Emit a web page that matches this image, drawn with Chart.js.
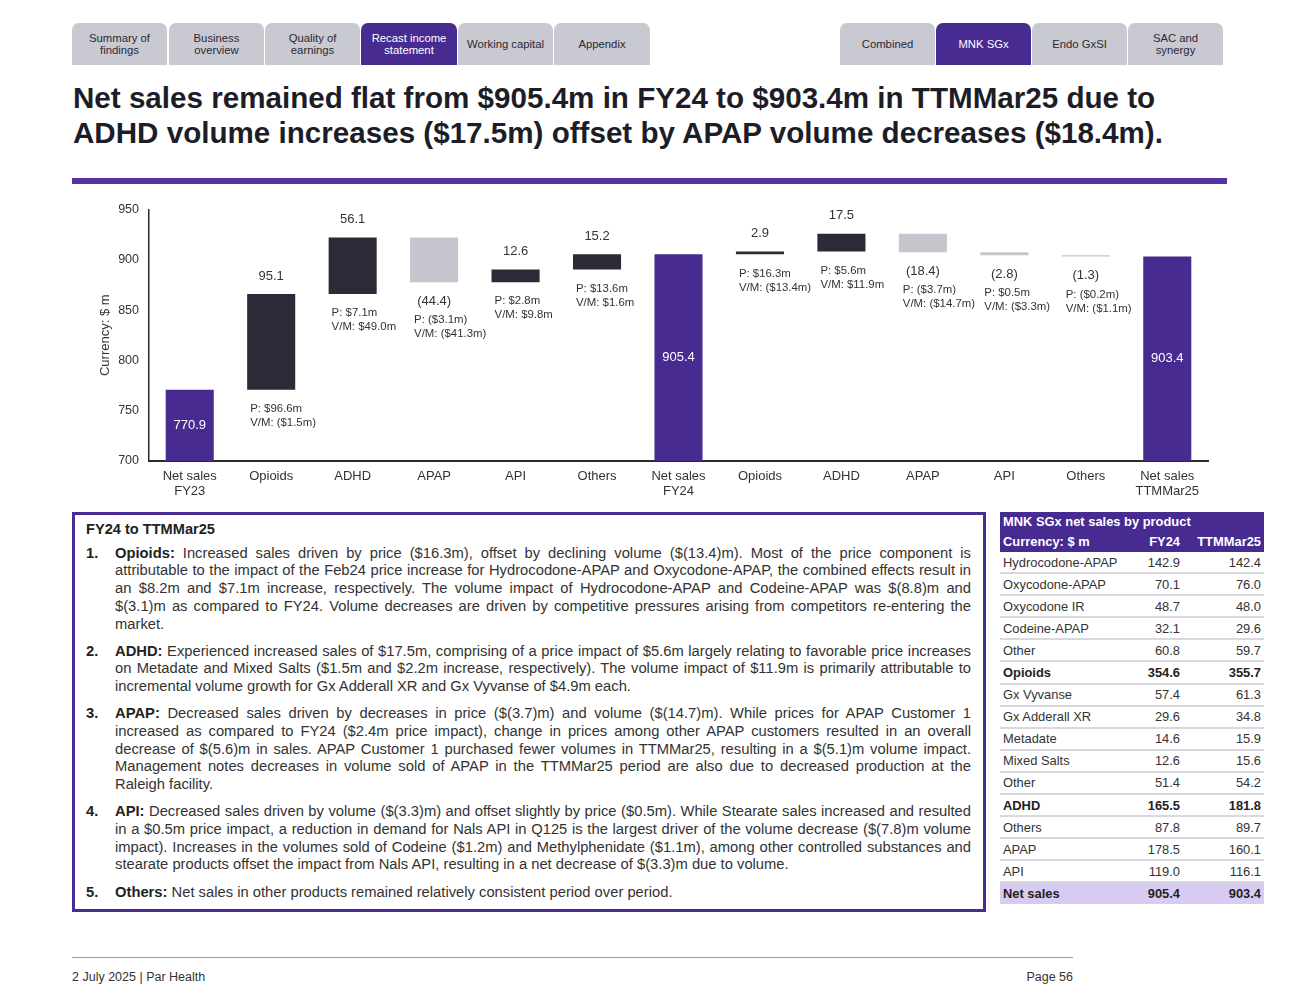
<!DOCTYPE html>
<html>
<head>
<meta charset="utf-8">
<script src="https://cdn.jsdelivr.net/npm/chart.js@4.4.1/dist/chart.umd.min.js"></script>
<style>
  html,body{margin:0;padding:0;background:#fff;}
  body{width:1300px;height:1005px;position:relative;overflow:hidden;font-family:"Liberation Sans",Arial,sans-serif;color:#222;}
  .tab{position:absolute;top:23px;height:42px;background:#c9c9d1;color:#2a2a35;font-size:11.3px;line-height:12px;display:flex;align-items:center;justify-content:center;text-align:center;border-radius:7px 7px 0 0;box-sizing:border-box;}
  .tab.active{background:#472b91;color:#fff;}
  .title{position:absolute;left:73px;top:80px;font-size:29.6px;font-weight:bold;line-height:35px;color:#1d1d28;white-space:nowrap;}
  .rule{position:absolute;left:72px;top:178px;width:1155px;height:6px;background:#5731a3;}
  #chartWrap{position:absolute;left:90px;top:192px;width:1130px;height:310px;}
  .box{position:absolute;left:72px;top:512px;width:914px;height:400px;border:3px solid #4a2b93;box-sizing:border-box;padding:6px 12px 0 11px;font-family:"Liberation Sans",Arial,sans-serif;font-size:14.75px;line-height:17.7px;color:#333;}
  .box h4{margin:0 0 6px 0;font-size:14.6px;font-weight:bold;color:#222;}
  .box ol{margin:0;padding-left:29px;list-style:none;counter-reset:item;}
  .box li{text-align:justify;margin-bottom:9.5px;position:relative;counter-increment:item;}
  .box li::before{content:counter(item) ".";position:absolute;left:-29px;font-weight:bold;color:#222;}
  .box li b{color:#222;}
  table{position:absolute;left:1000px;top:512px;width:264px;border-collapse:collapse;font-size:12.9px;color:#333;}
  td{height:20.1px;padding:0 3px;border-bottom:2px solid #d8d8de;}
  td.n{text-align:right;}
  tr.h td{background:#472b91;color:#fff;font-weight:bold;border-bottom:1px solid #472b91;height:19px;}
  tr.b td{font-weight:bold;color:#222;}
  tr.t td{background:#d8cbf3;font-weight:bold;color:#222;border-bottom:none;}
  .foot-line{position:absolute;left:72px;top:957px;width:1001px;height:1px;background:#9a90c2;}
  .foot{position:absolute;top:970px;font-size:12.5px;color:#333;}
</style>
</head>
<body>
<div class="tab" style="left:72px;width:95px;">Summary of<br>findings</div>
<div class="tab" style="left:169px;width:95px;">Business<br>overview</div>
<div class="tab" style="left:265px;width:95px;">Quality of<br>earnings</div>
<div class="tab active" style="left:361px;width:96px;">Recast income<br>statement</div>
<div class="tab" style="left:458px;width:95px;">Working capital</div>
<div class="tab" style="left:554px;width:96px;">Appendix</div>

<div class="tab" style="left:840px;width:95px;">Combined</div>
<div class="tab active" style="left:936px;width:95px;">MNK SGx</div>
<div class="tab" style="left:1032px;width:95px;">Endo GxSI</div>
<div class="tab" style="left:1128px;width:95px;">SAC and<br>synergy</div>

<div class="title">Net sales remained flat from $905.4m in FY24 to $903.4m in TTMMar25 due to<br>ADHD volume increases ($17.5m) offset by APAP volume decreases ($18.4m).</div>
<div class="rule"></div>

<div id="chartWrap"><canvas id="c"></canvas></div>

<div class="box">
<h4>FY24 to TTMMar25</h4>
<ol>
<li><b>Opioids:</b> Increased sales driven by price ($16.3m), offset by declining volume ($(13.4)m). Most of the price component is attributable to the impact of the Feb24 price increase for Hydrocodone-APAP and Oxycodone-APAP, the combined effects result in an $8.2m and $7.1m increase, respectively. The volume impact of Hydrocodone-APAP and Codeine-APAP was $(8.8)m and $(3.1)m as compared to FY24. Volume decreases are driven by competitive pressures arising from competitors re-entering the market.</li>
<li><b>ADHD:</b> Experienced increased sales of $17.5m, comprising of a price impact of $5.6m largely relating to favorable price increases on Metadate and Mixed Salts ($1.5m and $2.2m increase, respectively). The volume impact of $11.9m is primarily attributable to incremental volume growth for Gx Adderall XR and Gx Vyvanse of $4.9m each.</li>
<li><b>APAP:</b> Decreased sales driven by decreases in price ($(3.7)m) and volume ($(14.7)m). While prices for APAP Customer 1 increased as compared to FY24 ($2.4m price impact), change in prices among other APAP customers resulted in an overall decrease of $(5.6)m in sales. APAP Customer 1 purchased fewer volumes in TTMMar25, resulting in a $(5.1)m volume impact. Management notes decreases in volume sold of APAP in the TTMMar25 period are also due to decreased production at the Raleigh facility.</li>
<li><b>API:</b> Decreased sales driven by volume ($(3.3)m) and offset slightly by price ($0.5m). While Stearate sales increased and resulted in a $0.5m price impact, a reduction in demand for Nals API in Q125 is the largest driver of the volume decrease ($(7.8)m volume impact). Increases in the volumes sold of Codeine ($1.2m) and Methylphenidate ($1.1m), among other controlled substances and stearate products offset the impact from Nals API, resulting in a net decrease of $(3.3)m due to volume.</li>
<li><b>Others:</b> Net sales in other products remained relatively consistent period over period.</li>
</ol>
</div>

<table id="tbl"></table>

<div class="foot-line"></div>
<div class="foot" style="left:72px;">2 July 2025 | Par Health</div>
<div class="foot" style="left:1000px;width:73px;text-align:right;">Page 56</div>

<script>
// ---- Waterfall data ----
const categories = [["Net sales","FY23"],"Opioids","ADHD","APAP","API","Others",["Net sales","FY24"],"Opioids","ADHD","APAP","API","Others",["Net sales","TTMMar25"]];
const changes = [770.9, 95.1, 56.1, -44.4, 12.6, 15.2, 905.4, 2.9, 17.5, -18.4, -2.8, -1.3, 903.4];
const isTotal = [true,false,false,false,false,false,true,false,false,false,false,false,true];
const priceLabels = ["", "P: $96.6m", "P: $7.1m", "P: ($3.1m)", "P: $2.8m", "P: $13.6m", "", "P: $16.3m", "P: $5.6m", "P: ($3.7m)", "P: $0.5m", "P: ($0.2m)", ""];
const volLabels = ["", "V/M: ($1.5m)", "V/M: $49.0m", "V/M: ($41.3m)", "V/M: $9.8m", "V/M: $1.6m", "", "V/M: ($13.4m)", "V/M: $11.9m", "V/M: ($14.7m)", "V/M: ($3.3m)", "V/M: ($1.1m)", ""];
const yTicks = [700, 750, 800, 850, 900, 950];

// ---- Table data ----
const tableProducts = ["Hydrocodone-APAP","Oxycodone-APAP","Oxycodone IR","Codeine-APAP","Other","Opioids","Gx Vyvanse","Gx Adderall XR","Metadate","Mixed Salts","Other","ADHD","Others","APAP","API","Net sales"];
const tableFY24 = [142.9,70.1,48.7,32.1,60.8,354.6,57.4,29.6,14.6,12.6,51.4,165.5,87.8,178.5,119.0,905.4];
const tableTTM = [142.4,76.0,48.0,29.6,59.7,355.7,61.3,34.8,15.9,15.6,54.2,181.8,89.7,160.1,116.1,903.4];
const boldRows = ["Opioids","ADHD"];

// build table
(function(){
  const t = document.getElementById('tbl');
  let html = '<tr class="h"><td colspan="3">MNK SGx net sales by product</td></tr>';
  html += '<tr class="h"><td>Currency: $ m</td><td class="n">FY24</td><td class="n">TTMMar25</td></tr>';
  tableProducts.forEach((p,i)=>{
    let cls = '';
    if (i === tableProducts.length-1) cls = 't';
    else if (boldRows.includes(p)) cls = 'b';
    html += `<tr class="${cls}"><td style="width:126px">${p}</td><td class="n" style="width:45px">${tableFY24[i].toFixed(1)}</td><td class="n">${tableTTM[i].toFixed(1)}</td></tr>`;
  });
  t.innerHTML = html;
})();

// build floating ranges
const yMin = yTicks[0], yMax = yTicks[yTicks.length-1];
let running = 0;
const ranges = [], colors = [];
changes.forEach((v,i)=>{
  if (isTotal[i]) { running = v; ranges.push([yMin, v]); colors.push('#472b91'); }
  else { const s = running; running = +(running + v).toFixed(1); ranges.push([s, running]); colors.push(v >= 0 ? '#2b2a37' : '#c5c5cd'); }
});

const fmt = v => v < 0 ? '(' + Math.abs(v).toFixed(1) + ')' : v.toFixed(1);

const labelPlugin = {
  id: 'wfLabels',
  afterDatasetsDraw(chart){
    const ctx = chart.ctx;
    const meta = chart.getDatasetMeta(0);
    ctx.save();
    meta.data.forEach((bar,i)=>{
      const v = changes[i];
      const left = bar.x - bar.width/2;
      const top = Math.min(bar.y, bar.base), bottom = Math.max(bar.y, bar.base);
      ctx.textBaseline = 'middle';
      if (isTotal[i]) {
        ctx.fillStyle = '#ffffff';
        ctx.font = '13px "Liberation Sans", Arial, sans-serif';
        ctx.textAlign = 'center';
        ctx.fillText(v.toFixed(1), bar.x, (top+bottom)/2);
        return;
      }
      ctx.fillStyle = '#333';
      if (v >= 0) {
        ctx.font = '13px "Liberation Sans", Arial, sans-serif';
        ctx.textAlign = 'center';
        ctx.fillText(fmt(v), bar.x, top - 18);
        ctx.font = '11.4px "Liberation Sans", Arial, sans-serif';
        ctx.textAlign = 'left';
        ctx.fillText(priceLabels[i], left + 3, bottom + 19);
        ctx.fillText(volLabels[i], left + 3, bottom + 33);
      } else {
        ctx.font = '13px "Liberation Sans", Arial, sans-serif';
        ctx.textAlign = 'center';
        ctx.fillText(fmt(v), bar.x, bottom + 19);
        ctx.font = '11.4px "Liberation Sans", Arial, sans-serif';
        ctx.textAlign = 'left';
        ctx.fillText(priceLabels[i], left + 4, bottom + 38);
        ctx.fillText(volLabels[i], left + 4, bottom + 52);
      }
    });
    ctx.restore();
  }
};

new Chart(document.getElementById('c'), {
  type: 'bar',
  data: {
    labels: categories,
    datasets: [{ data: ranges, backgroundColor: colors, borderWidth: 0, barPercentage: 0.59, categoryPercentage: 1.0 }]
  },
  options: {
    responsive: true,
    maintainAspectRatio: false,
    animation: false,
    layout: { padding: { top: 10, right: 12, left: 8, bottom: 0 } },
    plugins: { legend: { display: false }, tooltip: { enabled: false } },
    scales: {
      x: {
        grid: { display: false, drawTicks: false },
        border: { display: true, color: '#2a2a2a', width: 2 },
        ticks: { color: '#333', font: { size: 13, family: '"Liberation Sans", Arial, sans-serif', lineHeight: 1.15 }, padding: 8, maxRotation: 0, autoSkip: false },
        afterFit(s){ s.height = 41; }
      },
      y: {
        min: yMin, max: yMax,
        afterBuildTicks(s){ s.ticks = yTicks.map(v=>({value:v})); },
        grid: { display: false, drawTicks: false },
        border: { display: true, color: '#2a2a2a', width: 1.5 },
        ticks: { color: '#333', font: { size: 12.5, family: '"Liberation Sans", Arial, sans-serif' }, padding: 10 },
        title: { display: true, text: 'Currency: $ m', color: '#333', font: { size: 13, family: '"Liberation Sans", Arial, sans-serif' }, padding: 0 },
        afterFit(s){ s.width = 51; }
      }
    }
  },
  plugins: [labelPlugin]
});
</script>
</body>
</html>
